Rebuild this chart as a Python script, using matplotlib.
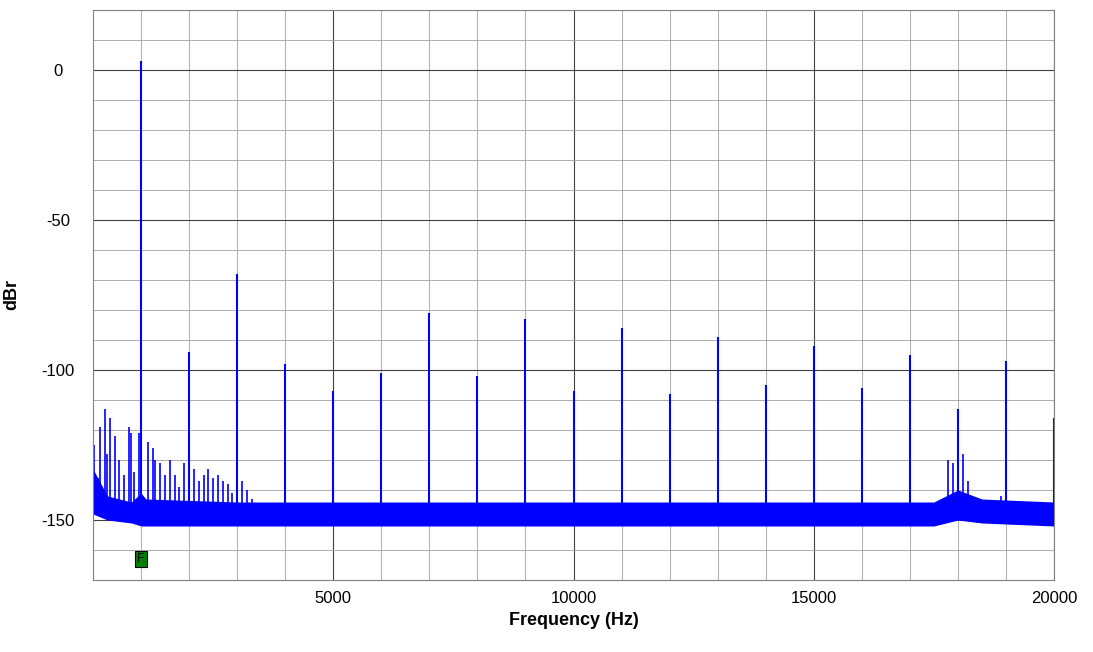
import matplotlib
matplotlib.use("Agg")
import matplotlib.pyplot as plt

plt.rcParams["font.family"] = "Liberation Sans"
plt.rcParams["axes.unicode_minus"] = False

# Harmonic peaks (Hz, dBr)
harm_freq = [1000, 2000, 3000, 4000, 5000, 6000, 7000, 8000, 9000, 10000,
             11000, 12000, 13000, 14000, 15000, 16000, 17000, 18000, 19000, 20000]
harm_db = [3, -94, -68, -98, -107, -101, -81, -102, -83, -107,
           -86, -108, -89, -105, -92, -106, -95, -113, -97, -116]

# Spurious small peaks
spur_freq = [30, 100, 150, 250, 300, 350, 450, 550, 650, 750, 800, 850, 950,
             1150, 1250, 1300, 1400, 1500, 1600, 1700, 1800, 1900, 2100, 2200, 2300,
             2400, 2500, 2600, 2700, 2800, 2900, 3100, 3200, 3300,
             17800, 17900, 18100, 18200, 18900]
spur_db = [-125, -136, -119, -113, -128, -116, -122, -130, -135, -119, -121, -134, -121,
           -124, -126, -130, -131, -135, -130, -135, -139, -131, -133, -137, -135,
           -133, -136, -135, -137, -138, -141, -137, -140, -143,
           -130, -131, -128, -137, -142]

# Noise floor band (breakpoints)
noise_freq = [0, 300, 800, 1000, 1100, 3000, 17500, 18000, 18500, 20000]
noise_lo = [-148, -150, -151, -152, -152, -152, -152, -150, -151, -152]
noise_hi = [-133, -142, -144, -141, -143, -144, -144, -140, -143, -144]

fig = plt.figure(figsize=(10.93, 6.52), dpi=100)
ax = fig.add_axes([93/1093, 72/652, 961/1093, 570/652])
blue = "#0000ff"
ax.fill_between(noise_freq, noise_lo, noise_hi, color=blue, lw=0)
ax.vlines(harm_freq, -148, harm_db, color=blue, lw=1.5)
ax.vlines(spur_freq, -148, spur_db, color=blue, lw=1.2)

ax.set_xlim(0, 20000)
ax.set_ylim(-170, 20)
ax.set_xticks([5000, 10000, 15000, 20000])
ax.set_xticks(range(0, 20001, 1000), minor=True)
ax.set_yticks([0, -50, -100, -150])
ax.set_yticks(range(-170, 21, 10), minor=True)
ax.grid(which="major", color="#404040", lw=0.8)
ax.grid(which="minor", color="#a0a0a0", lw=0.6)
ax.set_axisbelow(True)
ax.tick_params(which="both", length=0, labelsize=12, pad=8)
ax.tick_params(axis="y", pad=25)
for lab in ax.get_yticklabels():
    lab.set_horizontalalignment("center")
for s in ax.spines.values():
    s.set_color("#808080")
ax.set_xlabel("Frequency (Hz)", fontsize=13, fontweight="bold")
ax.set_ylabel("dBr", fontsize=13, fontweight="bold")
ax.yaxis.set_label_coords(-0.076, 0.5)
ax.text(1000, -163, "F", ha="center", va="center", fontsize=9,
        bbox=dict(boxstyle="square,pad=0.15", fc="#008000", ec="black", lw=0.8))
fig.savefig("out.png", dpi=100)
